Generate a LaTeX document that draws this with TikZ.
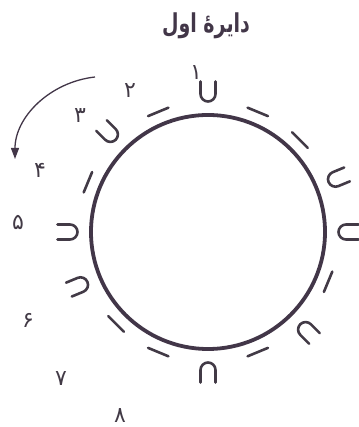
\documentclass[tikz,border=0pt]{standalone}
\usepackage{fontspec}
\usetikzlibrary{arrows.meta,calc}
\newfontfamily\arabicfont[Script=Arabic]{DejaVu Sans}
\TeXXeTstate=1
\definecolor{ink}{RGB}{66,54,72}
\definecolor{symink}{RGB}{66,58,70}
\tikzset{
  sym/.style={draw=symink,line width=2.6pt,line cap=round},
  shortsyl/.pic={\draw[sym] (-7.5,12.5) -- (-7.5,0) arc[start angle=180,end angle=360,radius=7.5] -- (7.5,12.5);},
  longsyl/.pic={\draw[sym] (-11,0) -- (11,0);},
  digit/.style={font=\arabicfont\fontsize{22}{22}\selectfont,text=symink,inner sep=0pt},
}
\begin{document}
\begin{tikzpicture}[x=1pt,y=1pt]
\useasboundingbox (0,0) rectangle (358,427);
\node[font=\arabicfont\bfseries\fontsize{20}{20}\selectfont,text=ink,transform shape,xscale=0.95,yscale=1.3] (title) at (206,401) {\beginR دایرهٔ اول\endR};
\coordinate (C) at (208,195);
\draw[ink,line width=3.8pt] (C) circle[radius=117];
% short syllables (U) at radius 138, long syllables (dashes) at radius 130
\foreach \a in {90,135,180,202.5,270,315,360,22.5}
  \pic[rotate=\a-90] at ($(C)+(\a:138)$) {shortsyl};
\foreach \a in {112.5,157.5,225,247.5,292.5,337.5,45,67.5}
  \pic[rotate=\a-90] at ($(C)+(\a:130)$) {longsyl};
% numbers
\node[digit] (n1) at (196,354) {۱};
\node[digit] (n2) at (130,336) {۲};
\node[digit] (n3) at (80,311) {۳};
\node[digit] (n4) at (40,257) {۴};
\node[digit] (n5) at (18,205) {۵};
\node[digit] (n6) at (28,107) {۶};
\node[digit] (n7) at (61,48) {۷};
\node[digit,text depth=0pt] (n8) at (120,11) {۸};
% direction arrow
\coordinate (as) at (95,350);
\coordinate (ae) at (15,268);
\draw[ink,line width=1.3pt,-{Triangle[length=11pt,width=8pt]}] (as) .. controls (50,345) and (15,310) .. (ae);
\end{tikzpicture}
\end{document}
